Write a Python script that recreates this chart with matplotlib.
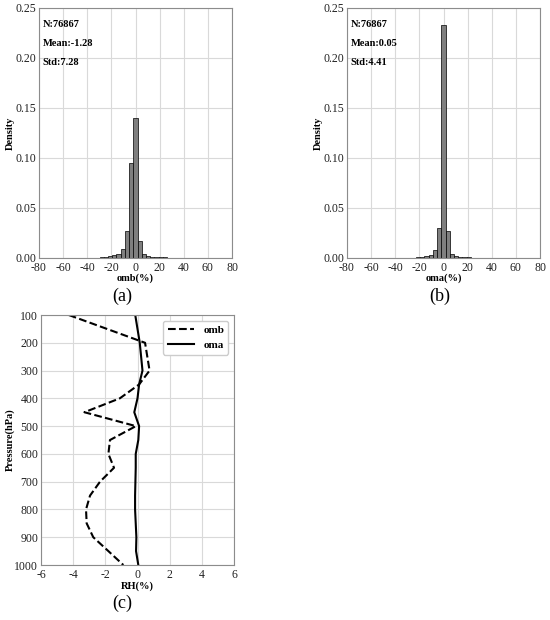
import matplotlib
matplotlib.use("Agg")
import matplotlib.pyplot as plt
import numpy as np

plt.rcParams['font.family'] = ['Liberation Serif', 'DejaVu Serif']
plt.rcParams['font.size'] = 7.5
plt.rcParams['axes.unicode_minus'] = False

# histogram bins (centre, %), width 3.5
bin_centers = [-35.05, -31.55, -28.05, -24.55, -21.05, -17.55, -14.05, -10.55,
               -7.05, -3.55, -0.05, 3.45, 6.95, 10.45, 13.95, 17.45, 20.95,
               24.45, 27.95, 31.45, 34.95, 38.45, 41.95]
bin_width = 3.5

omb_density = [0.0002, 0.0004, 0.0006, 0.0010, 0.0015, 0.0025, 0.0043, 0.0093,
               0.027, 0.095, 0.140, 0.0167, 0.0040, 0.0022, 0.0014, 0.0010,
               0.0007, 0.0005, 0.0004, 0.0003, 0.0002, 0.0001, 0.0001]
oma_density = [0.0001, 0.0002, 0.0003, 0.0004, 0.0006, 0.0010, 0.0018, 0.0033,
               0.008, 0.030, 0.233, 0.0267, 0.0037, 0.0020, 0.0012, 0.0008,
               0.0005, 0.0003, 0.0002, 0.0001, 0.0001, 0.0, 0.0]

omb_stats = ["N:76867", "Mean:-1.28", "Std:7.28"]
oma_stats = ["N:76867", "Mean:0.05", "Std:4.41"]

# vertical profile
pressure = [100, 200, 300, 350, 400, 450, 500, 550, 600, 650, 700, 750, 800,
            850, 900, 950, 1000]
omb_profile = [-4.27, 0.47, 0.75, 0.1, -1.1, -3.3, -0.1, -1.71, -1.81, -1.46,
               -2.33, -2.95, -3.2, -3.16, -2.75, -1.81, -0.88]
oma_profile = [-0.14, 0.14, 0.31, 0.1, 0.0, -0.2, 0.1, 0.05, -0.11, -0.11,
               -0.13, -0.15, -0.15, -0.11, -0.07, -0.09, 0.05]

GRID = '#d9d9d9'
SPINE = '#8c8c8c'


def style_axes(ax):
    ax.grid(True, color=GRID, linewidth=0.8)
    ax.set_axisbelow(True)
    for s in ax.spines.values():
        s.set_color(SPINE)
        s.set_linewidth(0.8)
    ax.tick_params(colors='#222222', length=0, labelsize=8.5)
    ax.tick_params(axis='x', pad=3)
    ax.tick_params(axis='y', pad=2)


def hist_panel(ax, dens, stats, xlabel):
    ax.bar(bin_centers, dens, width=bin_width, color='#7f7f7f',
           edgecolor='black', linewidth=0.5)
    ax.set_xlim(-80, 80)
    ax.set_ylim(0, 0.25)
    ax.set_xticks(np.arange(-80, 81, 20))
    ax.set_yticks(np.arange(0, 0.26, 0.05))
    ax.set_yticklabels([f"{v:.2f}" for v in np.arange(0, 0.26, 0.05)])
    ax.set_xlabel(xlabel, fontweight='bold')
    ax.set_ylabel('Density', fontweight='bold')
    ax.xaxis.set_label_coords(0.5, -0.06)
    ax.yaxis.set_label_coords(-0.127, 0.5)
    for i, t in enumerate(stats):
        ax.text(0.02, 0.932 - i * 0.076, t, transform=ax.transAxes,
                fontweight='bold', va='center', ha='left')
    style_axes(ax)


fig = plt.figure(figsize=(5.5, 6.2), dpi=100)

ax_a = fig.add_axes([0.0709, 0.5839, 0.351, 0.4032])
hist_panel(ax_a, omb_density, omb_stats, 'omb(%)')

ax_b = fig.add_axes([0.6309, 0.5839, 0.351, 0.4032])
hist_panel(ax_b, oma_density, oma_stats, 'oma(%)')

ax_c = fig.add_axes([0.0745, 0.0887, 0.351, 0.4032])
ax_c.plot(omb_profile, pressure, color='black', linestyle='--', linewidth=1.5,
          label='omb')
ax_c.plot(oma_profile, pressure, color='black', linestyle='-', linewidth=1.5,
          label='oma')
ax_c.set_xlim(-6, 6)
ax_c.set_ylim(1000, 100)
ax_c.set_xticks(np.arange(-6, 7, 2))
ax_c.set_yticks(np.arange(100, 1001, 100))
ax_c.set_xlabel('RH(%)', fontweight='bold')
ax_c.set_ylabel('Pressure(hPa)', fontweight='bold')
ax_c.xaxis.set_label_coords(0.5, -0.064)
ax_c.yaxis.set_label_coords(-0.137, 0.5)
leg = ax_c.legend(loc='upper right', prop={'weight': 'bold', 'size': 8},
                  fancybox=True, framealpha=1, edgecolor='#cccccc',
                  handlelength=2.4)
style_axes(ax_c)

fig.text(122 / 550, 1 - 296 / 620, '(a)', ha='center', va='center', fontsize=13)
fig.text(440 / 550, 1 - 296 / 620, '(b)', ha='center', va='center', fontsize=13)
fig.text(122 / 550, 1 - 603 / 620, '(c)', ha='center', va='center', fontsize=13)

fig.savefig('out.png', dpi=100)
